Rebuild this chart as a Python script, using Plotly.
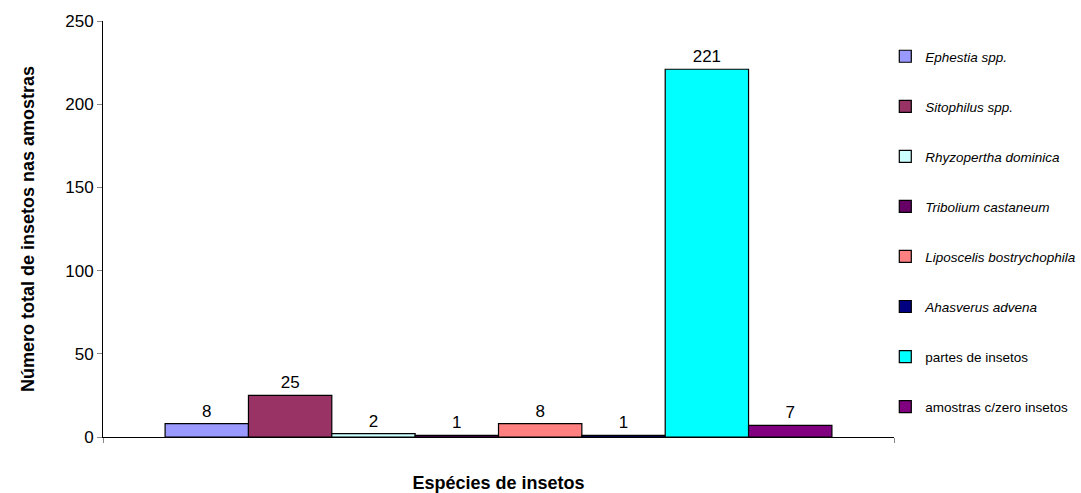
import plotly.graph_objects as go

species = ["<i>Ephestia spp.</i>", "<i>Sitophilus spp.</i>", "<i>Rhyzopertha dominica</i>",
           "<i>Tribolium castaneum</i>", "<i>Liposcelis bostrychophila</i>", "<i>Ahasverus advena</i>",
           "partes de insetos", "amostras c/zero insetos"]
counts = [8, 25, 2, 1, 8, 1, 221, 7]
colors = ["#9999FF", "#993366", "#CCFFFF", "#660066", "#FF8080", "#000080", "#00FFFF", "#800080"]
category = ["Espécies"]

FONT = "Arial, Liberation Sans, sans-serif"

fig = go.Figure()
for i, (name, val, col) in enumerate(zip(species, counts, colors)):
    fig.add_trace(go.Bar(
        x=category, y=[val], name=name, legendgroup=str(i),
        marker=dict(color=col, line=dict(color="black", width=1.2)),
        text=[str(val)],
        textposition="outside", cliponaxis=False,
        textfont=dict(family=FONT, size=17, color="black"),
    ))

fig.update_layout(
    width=1081, height=493,
    margin=dict(l=103, r=187, t=21, b=56, autoexpand=False),
    paper_bgcolor="white", plot_bgcolor="white",
    barmode="group", bargap=0.157, bargroupgap=0,
    font=dict(family=FONT, color="black"),
    showlegend=True,
    legend=dict(x=0.989, y=0.952, xanchor="left", yanchor="top",
                bgcolor="rgba(0,0,0,0)",
                font=dict(family=FONT, size=13.5, color="black"),
                tracegroupgap=29.5, itemwidth=30),
    xaxis=dict(showline=True, linecolor="black", linewidth=1, automargin=False,
               showticklabels=False, ticks="outside", tickson="boundaries",
               ticklen=5, tickcolor="#888888",
               title=dict(text="<b>Espécies de insetos</b>", font=dict(size=18), standoff=42)),
    yaxis=dict(range=[0, 250], tickvals=[0, 50, 100, 150, 200, 250], automargin=False,
               showline=True, linecolor="black", linewidth=1,
               ticks="outside", ticklen=5, tickcolor="#888888",
               showgrid=False, zeroline=False,
               tickfont=dict(size=17),
               title=dict(text="<b>Número total de insetos nas amostras</b>", font=dict(size=18), standoff=25)),
)

fig.write_html("out.html")
